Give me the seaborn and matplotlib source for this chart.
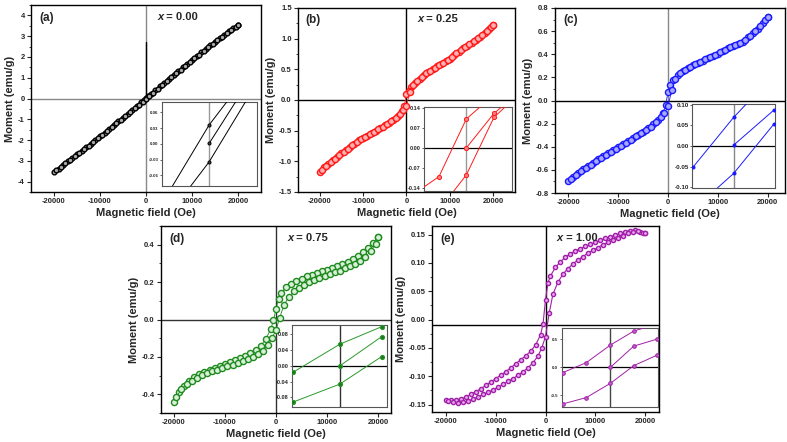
import matplotlib
matplotlib.use("Agg")
import matplotlib.pyplot as plt
import numpy as np
import pandas as pd
import seaborn as sns

# field grids (Oe) for the two loop branches
H_DOWN = [20000, 19000, 18000, 17000, 16000, 15000, 14000, 13000, 12000, 11000, 10000,
          9000, 8000, 7000, 6000, 5000, 4000, 3000, 2000, 1000, 500, 0, -500, -1000,
          -2000, -3000, -4000, -5000, -6000, -7000, -8000, -9000, -10000, -11000, -12000,
          -13000, -14000, -15000, -16000, -17000, -18000, -19000, -20000]
H_UP = [-19500, -18500, -17500, -16500, -15500, -14500, -13500, -12500, -11500, -10500,
        -9500, -8500, -7500, -6500, -5500, -4500, -3500, -2500, -1500, -750, 0, 750, 1500,
        2500, 3500, 4500, 5500, 6500, 7500, 8500, 9500, 10500, 11500, 12500, 13500, 14500,
        15500, 16500, 17500, 18500, 19500, 20000]

# (a) x = 0.00
A_DOWN = [3.55, 3.39, 3.23, 3.07, 2.90, 2.73, 2.56, 2.39, 2.22, 2.04, 1.86, 1.68, 1.50, 1.32,
          1.13, 0.95, 0.77, 0.58, 0.40, 0.21, 0.12, 0.03, -0.07, -0.17, -0.36, -0.55, -0.73,
          -0.92, -1.10, -1.28, -1.46, -1.64, -1.82, -2.00, -2.18, -2.35, -2.52, -2.69, -2.86,
          -3.03, -3.20, -3.37, -3.55]
A_UP = [-3.46, -3.29, -3.12, -2.95, -2.78, -2.61, -2.44, -2.27, -2.10, -1.92, -1.74, -1.56,
        -1.38, -1.20, -1.02, -0.84, -0.66, -0.48, -0.29, -0.16, -0.03, 0.11, 0.27, 0.46, 0.65,
        0.84, 1.02, 1.21, 1.39, 1.57, 1.75, 1.93, 2.11, 2.29, 2.46, 2.63, 2.80, 2.97, 3.14,
        3.30, 3.46, 3.55]

# (b) x = 0.25
B_DOWN = [1.22, 1.15, 1.09, 1.03, 0.98, 0.93, 0.88, 0.84, 0.79, 0.73, 0.67, 0.63, 0.59, 0.55,
          0.50, 0.46, 0.41, 0.35, 0.28, 0.21, 0.15, 0.10, -0.09, -0.18, -0.26, -0.32, -0.37,
          -0.41, -0.46, -0.50, -0.54, -0.58, -0.62, -0.66, -0.71, -0.77, -0.82, -0.87, -0.93,
          -0.98, -1.04, -1.10, -1.18]
B_UP = [-1.14, -1.07, -1.01, -0.955, -0.90, -0.845, -0.795, -0.74, -0.685, -0.64, -0.60,
        -0.56, -0.52, -0.48, -0.44, -0.39, -0.34, -0.29, -0.23, -0.17, -0.10, 0.13, 0.24, 0.31,
        0.38, 0.435, 0.48, 0.525, 0.57, 0.61, 0.65, 0.70, 0.76, 0.815, 0.86, 0.905, 0.955,
        1.005, 1.06, 1.12, 1.185, 1.22]

# (c) x = 0.50
C_DOWN = [0.725, 0.67, 0.62, 0.58, 0.545, 0.51, 0.49, 0.47, 0.45, 0.428, 0.405, 0.385, 0.365,
          0.345, 0.325, 0.303, 0.28, 0.252, 0.22, 0.175, 0.135, 0.07, -0.04, -0.11, -0.165,
          -0.205, -0.24, -0.27, -0.295, -0.322, -0.35, -0.378, -0.405, -0.43, -0.455, -0.48,
          -0.51, -0.54, -0.565, -0.595, -0.625, -0.66, -0.70]
C_UP = [-0.68, -0.645, -0.613, -0.583, -0.555, -0.527, -0.497, -0.47, -0.444, -0.42, -0.393,
        -0.366, -0.338, -0.31, -0.285, -0.258, -0.227, -0.19, -0.145, -0.11, -0.05, 0.09, 0.19,
        0.235, 0.265, 0.292, 0.315, 0.335, 0.355, 0.375, 0.395, 0.417, 0.44, 0.46, 0.48, 0.50,
        0.527, 0.562, 0.60, 0.645, 0.70, 0.725]

# (d) x = 0.75
D_DOWN = [0.44, 0.41, 0.385, 0.36, 0.34, 0.325, 0.31, 0.298, 0.287, 0.277, 0.267, 0.258,
          0.249, 0.240, 0.230, 0.219, 0.207, 0.192, 0.172, 0.140, 0.110, 0.055, -0.005, -0.05,
          -0.105, -0.140, -0.163, -0.180, -0.194, -0.206, -0.217, -0.227, -0.237, -0.247,
          -0.257, -0.268, -0.280, -0.294, -0.31, -0.33, -0.355, -0.39, -0.44]
D_UP = [-0.415, -0.372, -0.346, -0.327, -0.311, -0.298, -0.287, -0.277, -0.268, -0.259,
        -0.250, -0.241, -0.232, -0.222, -0.212, -0.200, -0.186, -0.166, -0.135, -0.098, -0.055,
        0.01, 0.075, 0.120, 0.150, 0.170, 0.186, 0.199, 0.211, 0.222, 0.232, 0.242, 0.252,
        0.262, 0.273, 0.285, 0.298, 0.315, 0.336, 0.365, 0.405, 0.44]

# (e) x = 1.00
E_DOWN = [0.152, 0.154, 0.158, 0.157, 0.155, 0.152, 0.149, 0.146, 0.143, 0.140, 0.136, 0.133,
          0.129, 0.125, 0.121, 0.116, 0.110, 0.102, 0.092, 0.077, 0.065, 0.035, -0.008, -0.027,
          -0.045, -0.056, -0.064, -0.071, -0.078, -0.085, -0.092, -0.098, -0.104, -0.110,
          -0.116, -0.122, -0.127, -0.132, -0.137, -0.140, -0.142, -0.142, -0.141]
E_UP = [-0.144, -0.146, -0.147, -0.146, -0.143, -0.140, -0.136, -0.132, -0.128, -0.124,
        -0.119, -0.114, -0.109, -0.104, -0.098, -0.092, -0.085, -0.076, -0.064, -0.050, -0.030,
        0.012, 0.045, 0.066, 0.080, 0.090, 0.098, 0.105, 0.111, 0.117, 0.122, 0.127, 0.132,
        0.136, 0.140, 0.144, 0.148, 0.152, 0.155, 0.156, 0.153, 0.152]

# zoomed views near the origin (inset field scale, arbitrary units)
AI_DOWN_H, AI_DOWN_M = [-45, 0, 25], [-0.099, 0.036, 0.095]
AI_INIT_H, AI_INIT_M = [0, 35], [0.001, 0.100]
AI_UP_H, AI_UP_M = [-30, 0, 45], [-0.105, -0.034, 0.100]

BI_DOWN_H, BI_DOWN_M = [-55, -27.3, 0, 20], [-0.169, -0.101, 0.1025, 0.1645]
BI_INIT_H, BI_INIT_M = [0, 27.7, 40], [0.0, 0.1225, 0.159]
BI_UP_H, BI_UP_M = [-20, 0, 27.7, 45], [-0.186, -0.0955, 0.1085, 0.1655]

CI_DOWN_H, CI_DOWN_M = [-41, 0, 40], [-0.050, 0.0697, 0.17]
CI_INIT_H, CI_INIT_M = [0, 40.7], [0.0024, 0.087]
CI_UP_H, CI_UP_M = [-30, 0, 40.7], [-0.13, -0.066, 0.053]

DI_DOWN_H, DI_DOWN_M = [-47, 0, 42.4], [-0.016, 0.055, 0.0998]
DI_INIT_H, DI_INIT_M = [0, 42.4], [0.0, 0.0745]
DI_UP_H, DI_UP_M = [-47, 0, 42.4], [-0.092, -0.0465, 0.0237]

EI_DOWN_H, EI_DOWN_M = [-48, -24.3, 0, 23.4, 46.7], [-0.097, 0.083, 0.40, 0.65, 0.78]
EI_INIT_H, EI_INIT_M = [0, 23.4, 46.7], [0.0, 0.38, 0.505]
EI_UP_H, EI_UP_M = [-48, -24.3, 0, 23.4, 46.7], [-0.66, -0.545, -0.288, 0.029, 0.216]

W, H = 787, 442

sns.set_style("ticks")
plt.rcParams["font.family"] = ["Liberation Sans", "DejaVu Sans"]
plt.rcParams["font.weight"] = "bold"
plt.rcParams["axes.labelweight"] = "bold"
plt.rcParams["axes.unicode_minus"] = False

fig = plt.figure(figsize=(W / 100, H / 100), dpi=100)
fig.patch.set_facecolor("white")


def px_axes(left, top, right, bottom):
    return fig.add_axes([left / W, 1 - bottom / H, (right - left) / W, (bottom - top) / H])


def loop_frame(branches):
    parts = []
    for name, hs, ms in branches:
        parts.append(pd.DataFrame({"H": hs, "M": ms, "branch": name}))
    return pd.concat(parts, ignore_index=True)


def main_panel(box, m_down, m_up, color, face, ms, lw, xlim, ylim, yticks, ylabels,
               tag, comp=None, vcolor="black", hcolor="black", hline_y=0.0):
    ax = px_axes(*box)
    ax.axvline(0, color=vcolor, lw=1.0, zorder=1)
    ax.axhline(hline_y, color=hcolor, lw=1.0, zorder=1)
    df = loop_frame([("down", H_DOWN, m_down), ("up", H_UP, m_up)])
    sns.lineplot(data=df, x="H", y="M", units="branch", estimator=None, sort=False,
                 color=color, lw=lw, marker="o", markersize=ms, markerfacecolor=face,
                 markeredgecolor=color, markeredgewidth=1.0, ax=ax, zorder=3)
    ax.set_xlim(*xlim)
    ax.set_ylim(*ylim)
    ax.set_xticks([-20000, -10000, 0, 10000, 20000])
    ax.set_xticklabels(["-20000", "-10000", "0", "10000", "20000"])
    ax.set_yticks(yticks)
    ax.set_yticklabels(ylabels)
    ax.yaxis.set_minor_locator(matplotlib.ticker.AutoMinorLocator(2))
    ax.tick_params(axis="both", which="major", labelsize=5.5, length=3, width=0.8, pad=1.5)
    ax.tick_params(axis="y", which="minor", length=1.8, width=0.6)
    ax.set_xlabel("Magnetic field (Oe)", fontsize=8, labelpad=2)
    ax.set_ylabel("Moment (emu/g)", fontsize=8, labelpad=2)
    for sp in ax.spines.values():
        sp.set_linewidth(1.0)
        sp.set_color("black")
        sp.set_visible(True)
    ax.text(0.035, 0.965, tag, transform=ax.transAxes, ha="left", va="top", fontsize=8.5)
    if comp is not None:
        ax.text(0.55, 0.965, "x", transform=ax.transAxes, ha="left", va="top",
                fontsize=8, style="italic")
        ax.annotate(" = " + comp, xy=(0.55, 0.965), xycoords="axes fraction",
                    xytext=(4.2, 0), textcoords="offset points", ha="left", va="top",
                    fontsize=8)
    return ax


def inset_panel(box, branches, color, face, ms, xlim, ylim, yticks, ylabels, fs,
                vcolor="gray", hline=True):
    ax = px_axes(*box)
    ax.axvline(0, color=vcolor, lw=1.0, zorder=1)
    if hline:
        ax.axhline(0, color="black", lw=0.9, zorder=1)
    df = loop_frame(branches)
    sns.lineplot(data=df, x="H", y="M", units="branch", estimator=None, sort=False,
                 color=color, lw=0.7, marker="o", markersize=ms, markerfacecolor=face,
                 markeredgecolor=color, markeredgewidth=0.7, ax=ax, zorder=3)
    ax.set_xlim(*xlim)
    ax.set_ylim(*ylim)
    ax.set_xticks([])
    ax.set_yticks(yticks)
    ax.set_yticklabels(ylabels)
    ax.tick_params(axis="y", labelsize=fs, length=1.5, width=0.5, pad=1)
    ax.set_xlabel("")
    ax.set_ylabel("")
    for sp in ax.spines.values():
        sp.set_linewidth(0.8)
        sp.set_color("#555555")
        sp.set_visible(True)
    return ax


# (a)
ax_a = main_panel((31, 5, 261, 192), A_DOWN, A_UP, "black", "#aaaaaa", 3.4, 1.0,
                  (-25000, 25000), (-4.5, 4.5), [-4, -3, -2, -1, 0, 1, 2, 3, 4],
                  ["-4", "-3", "-2", "-1", "0", "1", "2", "3", "4"], "(a)", "0.00",
                  vcolor="#888888", hcolor="#888888")
ax_a.plot([0, 0], [0, 2.7], color="black", lw=1.0, zorder=2)
inset_panel((161.7, 101.7, 256.7, 186),
            [("down", AI_DOWN_H, AI_DOWN_M), ("init", AI_INIT_H, AI_INIT_M),
             ("up", AI_UP_H, AI_UP_M)],
            "black", "#444444", 2.2, (-50, 50), (-0.08, 0.08),
            [-0.06, -0.03, 0.0, 0.03, 0.06], ["-0.06", "-0.03", "0.00", "0.03", "0.06"], 3.2,
            vcolor="#999999", hline=False)

# (b)
main_panel((298, 8, 515, 192), B_DOWN, B_UP, "#ff1a1a", "#ffb0b0", 4.4, 0.6,
           (-25000, 25000), (-1.5, 1.5), [-1.5, -1.0, -0.5, 0.0, 0.5, 1.0, 1.5],
           ["-1.5", "-1.0", "-0.5", "0.0", "0.5", "1.0", "1.5"], "(b)", "0.25")
inset_panel((424.3, 106.7, 512, 190.7),
            [("down", BI_DOWN_H, BI_DOWN_M), ("init", BI_INIT_H, BI_INIT_M),
             ("up", BI_UP_H, BI_UP_M)],
            "#ff1a1a", "#ff8080", 3.0, (-42, 45.7), (-0.151, 0.146),
            [-0.14, -0.07, 0.0, 0.07, 0.14], ["-0.14", "-0.07", "0.00", "0.07", "0.14"], 4.0,
            vcolor="#999999")

# (c)
main_panel((555, 8, 785, 193), C_DOWN, C_UP, "#1a1aff", "#a8a8ff", 4.4, 0.6,
           (-22700, 23500), (-0.8, 0.8), [-0.8, -0.6, -0.4, -0.2, 0.0, 0.2, 0.4, 0.6, 0.8],
           ["-0.8", "-0.6", "-0.4", "-0.2", "0.0", "0.2", "0.4", "0.6", "0.8"], "(c)",
           vcolor="#888888")
inset_panel((692.3, 104, 775, 188.3),
            [("down", CI_DOWN_H, CI_DOWN_M), ("init", CI_INIT_H, CI_INIT_M),
             ("up", CI_UP_H, CI_UP_M)],
            "#1a1aff", "#1a1aff", 2.2, (-42, 42), (-0.102, 0.102),
            [-0.10, -0.05, 0.0, 0.05, 0.10], ["-0.10", "-0.05", "0.00", "0.05", "0.10"], 4.5,
            vcolor="#888888")

# (d)
main_panel((161, 226, 391, 413), D_DOWN, D_UP, "#1f8a1f", "#d8f0d8", 4.4, 0.6,
           (-22500, 22500), (-0.5, 0.5), [-0.4, -0.2, 0.0, 0.2, 0.4],
           ["-0.4", "-0.2", "0.0", "0.2", "0.4"], "(d)", "0.75",
           vcolor="#333333", hcolor="#333333")
inset_panel((292.3, 325, 386.7, 406.7),
            [("down", DI_DOWN_H, DI_DOWN_M), ("init", DI_INIT_H, DI_INIT_M),
             ("up", DI_UP_H, DI_UP_M)],
            "#2a9a2a", "#1f7a1f", 3.0, (-48, 47.4), (-0.104, 0.104),
            [-0.08, -0.04, 0.0, 0.04, 0.08], ["-0.08", "-0.04", "0.00", "0.04", "0.08"], 4.0,
            vcolor="#333333")

# (e)
main_panel((432, 226, 659, 412), E_DOWN, E_UP, "#a020a8", "#e8a8ec", 3.0, 0.8,
           (-22800, 22800), (-0.163, 0.165), [-0.15, -0.10, -0.05, 0.0, 0.05, 0.10, 0.15],
           ["-0.15", "-0.10", "-0.05", "0.00", "0.05", "0.10", "0.15"], "(e)", "1.00",
           hline_y=-0.009)
inset_panel((561.7, 328.3, 658.3, 407.3),
            [("down", EI_DOWN_H, EI_DOWN_M), ("init", EI_INIT_H, EI_INIT_M),
             ("up", EI_UP_H, EI_UP_M)],
            "#a020a8", "#c060c8", 2.6, (-49, 48), (-0.72, 0.70),
            [-0.5, 0.0, 0.5], ["-0.5", "0.0", "0.5"], 3.2, vcolor="#444444")

fig.savefig("out.png", dpi=100, facecolor="white")
